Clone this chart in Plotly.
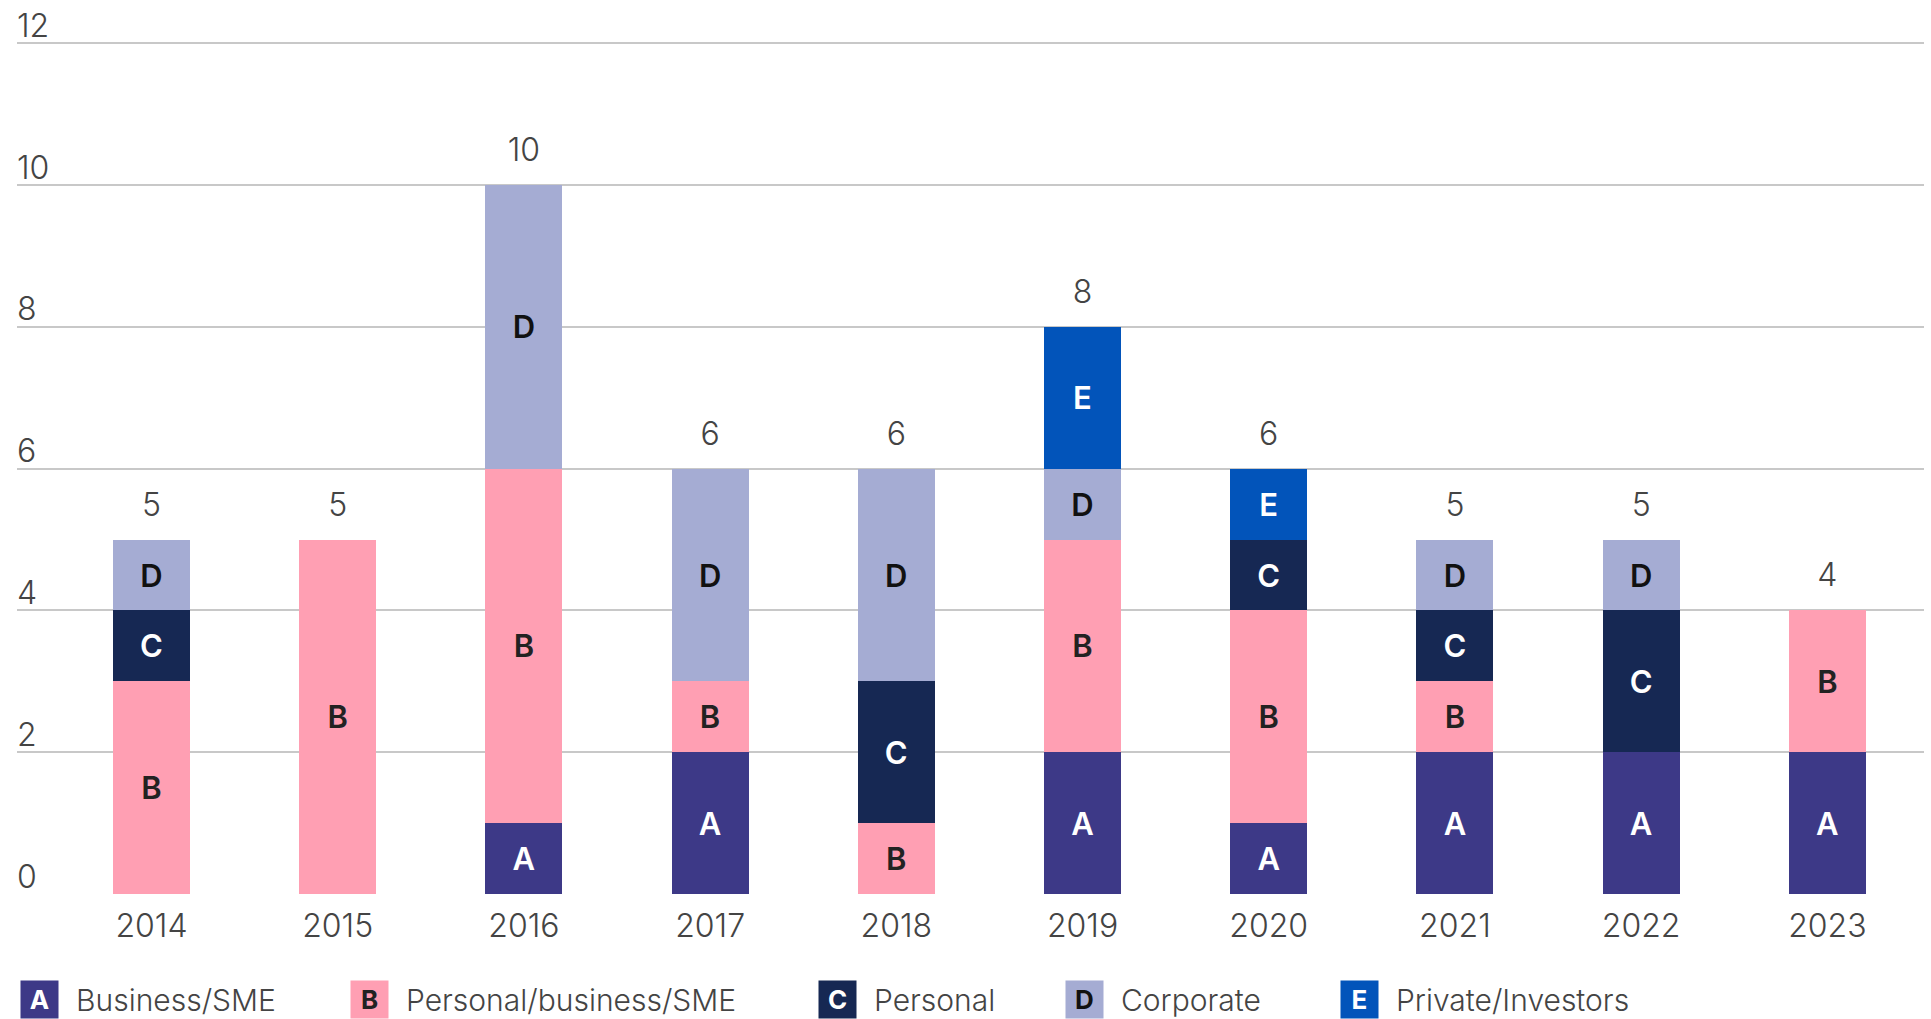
import plotly.graph_objects as go

years = ["2014", "2015", "2016", "2017", "2018", "2019", "2020", "2021", "2022", "2023"]
business_sme = [0, 0, 1, 2, 0, 2, 1, 2, 2, 2]          # A
personal_business_sme = [3, 5, 5, 1, 1, 3, 3, 1, 0, 2]  # B
personal = [1, 0, 0, 0, 2, 0, 1, 1, 2, 0]               # C
corporate = [1, 0, 4, 3, 3, 1, 0, 1, 1, 0]              # D
private_investors = [0, 0, 0, 0, 0, 2, 1, 0, 0, 0]      # E

letters = ["A", "B", "C", "D", "E"]
names = ["Business/SME", "Personal/business/SME", "Personal", "Corporate", "Private/Investors"]
series = [business_sme, personal_business_sme, personal, corporate, private_investors]
colors = ["#3d3987", "#ff9fb3", "#162853", "#a5acd3", "#0254ba"]
text_colors = ["#ffffff", "#222222", "#ffffff", "#111111", "#ffffff"]

y_ticks = [0, 2, 4, 6, 8, 10, 12]

FONT = "Inter"
GREY = "#444444"

fig = go.Figure()
for letter, name, vals, col, tcol in zip(letters, names, series, colors, text_colors):
    fig.add_trace(go.Bar(
        x=years,
        y=[v if v > 0 else None for v in vals],
        name=name,
        marker=dict(color=col, line=dict(width=0)),
        width=0.414,
        text=[letter if v > 0 else "" for v in vals],
        textposition="inside",
        insidetextanchor="middle",
        textangle=0,
        textfont=dict(family=FONT, size=31, color=tcol, weight=600),
        hoverinfo="skip",
        showlegend=False,
    ))

totals = [sum(s[i] for s in series) for i in range(len(years))]

fig.add_trace(go.Scatter(
    x=years, y=totals, mode="markers+text",
    text=[str(t) for t in totals], textposition="top center",
    marker=dict(size=24, opacity=0),
    textfont=dict(family=FONT, size=32, color=GREY, weight=300),
    hoverinfo="skip", showlegend=False, cliponaxis=False,
))

annotations = []
# y-axis labels above gridlines
for v in y_ticks:
    annotations.append(dict(
        x=0, y=v, xref="paper", yref="y", text=str(v), showarrow=False,
        xanchor="left", yanchor="middle", xshift=-2, yshift=18,
        font=dict(family=FONT, size=32, color=GREY, weight=300),
    ))

# custom legend
W = 1907.0
L = 17.0
H = 886.0
box_left = [20, 350, 818, 1065, 1340]
leg_y = (894 - 999.5) / H
for bl, letter, name, col, tcol in zip(box_left, letters, names, colors, text_colors):
    annotations.append(dict(
        x=(bl - L) / W, y=leg_y, xref="paper", yref="paper", text=f"<b>{letter}</b>",
        showarrow=False, xanchor="left", yanchor="middle",
        width=37, height=37, bgcolor=col, borderpad=0,
        font=dict(family=FONT, size=26, color=tcol),
    ))
    annotations.append(dict(
        x=(bl + 54 - L) / W, y=leg_y, xref="paper", yref="paper", text=name,
        showarrow=False, xanchor="left", yanchor="middle",
        font=dict(family=FONT, size=30, color=GREY, weight=300),
    ))

fig.update_layout(
    width=1931, height=1019,
    margin=dict(l=17, r=7, t=8, b=125),
    barmode="stack",
    plot_bgcolor="white", paper_bgcolor="white",
    font=dict(family=FONT, color=GREY),
    annotations=annotations,
    showlegend=False,
    xaxis=dict(
        type="category", range=[-0.722, 9.519],
        showgrid=False, zeroline=False, showline=False, ticks="",
        tickfont=dict(family=FONT, size=32, color=GREY, weight=300),
        ticklabelstandoff=10,
    ),
    yaxis=dict(
        range=[0, 12.5], tickvals=y_ticks, showticklabels=False,
        showgrid=True, gridcolor="#c8c8c8", gridwidth=1.5,
        zeroline=False, showline=False, ticks="",
    ),
)

fig.write_html("out.html", config={"displayModeBar": False},
               post_script="document.body.style.margin='0px';")
